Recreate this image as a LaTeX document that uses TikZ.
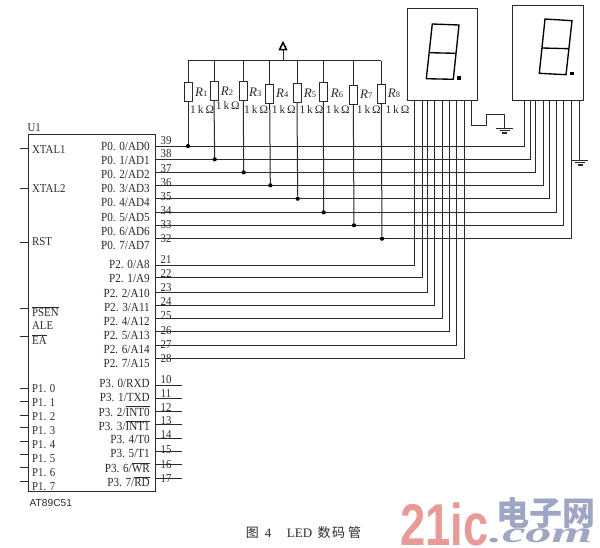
\documentclass[tikz,border=0pt]{standalone}
\usepackage{fontspec}
\setmainfont[FakeStretch=0.9]{Liberation Serif}
\newfontfamily\plainf{Liberation Serif}
\newfontfamily\cjkf{Noto Sans CJK SC}
\newfontfamily\sansf{Liberation Sans}
\newcommand\slsh{/}
\definecolor{ink}{HTML}{2B2B2B}
\definecolor{wred}{HTML}{E89A96}
\definecolor{wblue}{HTML}{9FA6C4}
\tikzset{
  wire/.style={draw=ink,line width=1pt},
  thin box/.style={draw=ink,line width=1pt,inner sep=0pt,anchor=north west},
  seg/.style={draw=black,line width=1.35pt,line join=miter},
  jdot/.style={circle,fill=black,inner sep=0pt,minimum size=4.2pt},
  rbox/.style={draw=ink,line width=1pt,fill=white,inner sep=0pt,minimum width=8pt,minimum height=19pt},
  rlab/.style={anchor=east,inner sep=0pt,text=ink,font=\fontsize{12.4}{13}\selectfont},
  llab/.style={anchor=west,inner sep=0pt,text=ink,font=\fontsize{12}{13}\selectfont},
  num/.style={anchor=center,inner sep=0pt,text=ink,font=\fontsize{12}{13}\selectfont},
  gndbar/.style={draw=ink,line width=1pt},
}
\begin{document}
\begin{tikzpicture}[x=1pt,y=-1pt]
\useasboundingbox[fill=white] (0,0) rectangle (600,547);
% IC
\node[thin box,minimum width=127pt,minimum height=357pt] (ic) at (28,134) {};
\node[llab] (u1) at (27.5,128) {U1};
\node[llab,font=\sansf\fontsize{10.2}{11}\selectfont] (part) at (29.5,502.7) {AT89C51};
% Left pins
\foreach \nm/\y/\ly/\t in {xa/148/149.3/XTAL1,xb/188/188.3/XTAL2,rst/242/242/RST,psen/308/311.3/$\overline{\hbox{PSEN}}$,ea/336/340/$\overline{\hbox{EA}}$,
  pa/388/388.7/P1. 0,pb/401.7/402.7/P1. 1,pc/415/416.7/P1. 2,pd/427/430.7/P1. 3,pe/441.7/445/P1. 4,pf/454.3/459/P1. 5,pg/467.7/473/P1. 6,ph/481.3/486.7/P1. 7}{
  \node[llab] (l\nm) at (32,\ly) {\t};
  \coordinate (s\nm) at (19.5,\y);
  \coordinate (e\nm) at (28,\y);
  \draw[wire] (s\nm) -- (e\nm);
}
\node[llab] (lale) at (32,326) {ALE};
% Right side labels and numbers
\foreach \i/\ly/\t/\n/\ny in {0/146.7/P0. 0\slsh AD0/39/140.7,1/160.7/P0. 1\slsh AD1/38/154,2/174.3/P0. 2\slsh AD2/37/169,3/188.7/P0. 3\slsh AD3/36/182.7,4/202.7/P0. 4\slsh AD4/35/196.7,5/217/P0. 5\slsh AD5/34/210.7,6/231/P0. 6\slsh AD6/33/225,7/245.3/P0. 7\slsh AD7/32/239,
  8/264.3/P2. 0\slsh A8/21/260,9/278.7/P2. 1\slsh A9/22/274,10/293/P2. 2\slsh A10/23/288,11/307.3/P2. 3\slsh A11/24/301.7,12/321.5/P2. 4\slsh A12/25/316,13/335.7/P2. 5\slsh A13/26/330.7,14/349.3/P2. 6\slsh A14/27/344.3,15/363.3/P2. 7\slsh A15/28/358.3,
  16/383.3/P3. 0\slsh RXD/10/379.3,17/397.3/P3. 1\slsh TXD/11/394,18/411/P3. 2\slsh$\overline{\hbox{INT0}}$/12/407.7,19/425.3/P3. 3\slsh$\overline{\hbox{INT1}}$/13/421,20/439.3/P3. 4\slsh T0/14/435,21/453.7/P3. 5\slsh T1/15/450,22/467.3/P3. 6\slsh$\overline{\hbox{WR}}$/16/464.3,23/481.7/P3. 7\slsh$\overline{\hbox{RD}}$/17/478.3}{
  \node[rlab] (lab\i) at (150,\ly) {\t};
  \node[num] (num\i) at (166,\ny) {\n};
}
% Displays
\node[thin box,minimum width=69.5pt,minimum height=92pt] (da) at (407.3,8) {};
\node[thin box,minimum width=71pt,minimum height=94.7pt] (db) at (511.7,5.3) {};
\coordinate (aul) at (432.3,24);\coordinate (aur) at (459,25);\coordinate (alr) at (453.3,79.3);\coordinate (all) at (426.3,78.7);\coordinate (aml) at (429.3,52.7);\coordinate (amr) at (456,53.3);
\draw[seg] (aul) -- (aur) -- (alr) -- (all) -- cycle (aml) -- (amr);
\node[fill=black,inner sep=0pt,minimum size=3.6pt] (adot) at (459,78) {};
\coordinate (bul) at (545,19);\coordinate (bur) at (572,20.7);\coordinate (blr) at (566,74.7);\coordinate (bll) at (539.3,73.3);\coordinate (bml) at (542.3,48);\coordinate (bmr) at (569,48.7);
\draw[seg] (bul) -- (bur) -- (blr) -- (bll) -- cycle (bml) -- (bmr);
\node[fill=black,inner sep=0pt,minimum size=3.6pt] (bdot) at (571.7,73.3) {};
% P0 to right display
\foreach \i/\y/\x in {0/146/524,1/159.3/530.7,2/172.3/535.7,3/185.3/543.3,4/198.7/549,5/212.3/556,6/225.3/563.3,7/238.7/571.5}{
  \coordinate (ps\i) at (155,\y);
  \coordinate (pt\i) at (\x,100);
  \draw[wire] (ps\i) -| (pt\i);
}
% P2 to left display
\foreach \i/\y/\x in {0/265.3/414.5,1/277.7/422,2/292.3/427.7,3/305/434,4/318/442.5,5/331.7/449.7,6/345/456.3,7/358.3/464.7}{
  \coordinate (qs\i) at (155,\y);
  \coordinate (qt\i) at (\x,100);
  \draw[wire] (qs\i) -| (qt\i);
}
% P3 stubs
\foreach \i/\y in {0/385.7,1/398.7,2/411.7,3/424.3,4/438,5/451.3,6/464.7,7/478}{
  \coordinate (ts\i) at (155,\y);
  \coordinate (te\i) at (181.7,\y);
  \draw[wire] (ts\i) -- (te\i);
}
% Grounds
\coordinate (ga) at (471.7,100);\coordinate (gb) at (486,125);\coordinate (gc) at (504.3,114);\coordinate (gd) at (504.3,128);
\draw[wire] (ga) |- (gb) |- (gc) -- (gd);
\draw[gndbar] (496,128) -- (512.7,128) (499.5,130.5) -- (509.5,130.5);
\draw[gndbar,line width=1.1pt] (502,133) -- (507,133);
\coordinate (gg) at (579.3,100);\coordinate (gh) at (579.3,160.3);
\draw[wire] (gg) -- (gh);
\draw[gndbar] (571.7,160.3) -- (587.7,160.3) (575,162.7) -- (585,162.7);
\draw[gndbar,line width=1.1pt] (577.7,165) -- (582.7,165);
% Resistors
\coordinate (rl) at (188,60.7);\coordinate (rr) at (381.3,60.7);
\draw[wire] (rl) -- (rr);
\foreach \i/\x/\dx/\yt/\y/\lx/\ly/\kx/\ky in {1/188/188/92.3/146/195/92/190/109.3,2/214/214.7/90.7/159.3/220.7/91/215.7/106,3/243.3/243.7/91.2/172.3/249/92/244/109.3,4/269.7/270.3/93.5/185.3/276/93.3/271.7/109.3,5/297/297.7/93/198.7/303.7/93.3/299.3/109.3,6/323.3/323.7/92.2/212.3/330.7/93.3/325.7/109.3,7/353.3/354/94.5/225.3/360/94.3/356.7/109.3,8/381.3/382/94/238.7/387.7/93.3/385.3/109.3}{
  \coordinate (rt\i) at (\x,60.7);
  \node[rbox] (r\i) at (\x,\yt) {};
  \node[jdot] (j\i) at (\dx,\y) {};
  \draw[wire] (rt\i) -- (r\i.north);
  \draw[wire] (r\i.south) -- (j\i);
  \node[llab] (rn\i) at (\lx,\ly) {\plainf\fontsize{13}{14}\selectfont\textit{R}\fontsize{8.5}{9}\selectfont\i};
  \node[llab] (rv\i) at (\kx,\ky) {\plainf\fontsize{11.5}{13}\selectfont 1\,k\,Ω};
}
% Supply
\coordinate (vs) at (283,60.7);\coordinate (vt) at (283,50);
\draw[wire] (vs) -- (vt);
\draw[draw=black,line width=1.5pt,line join=miter] (279.6,49.5) -- (283,42.5) -- (286.4,49.5) -- cycle;
% Caption
\node[inner sep=0pt,anchor=west,text=ink,font=\cjkf\fontsize{13}{14}\selectfont] (cap) at (245.7,533) {图\hspace{6pt}{\plainf 4}\hspace{15.5pt}{\plainf LED}\hspace{5.5pt}数\hspace{1.5pt}码\hspace{3pt}管};
% Watermark
\node[inner sep=0pt,anchor=west,text=wred,font=\sansf\bfseries\fontsize{59}{60}\selectfont] (w1) at (400,524.5) {\scalebox{.77}[1]{21ic}};
\node[inner sep=0pt,anchor=west,text=wblue,font=\cjkf\bfseries\fontsize{33}{34}\selectfont] (w2) at (496,513.5) {电子网};
\node[inner sep=0pt,anchor=west,text=wblue,font=\plainf\bfseries\itshape\fontsize{29}{30}\selectfont] (w3) at (489,536) {\scalebox{1.8}[1]{.com}};
\end{tikzpicture}
\end{document}
